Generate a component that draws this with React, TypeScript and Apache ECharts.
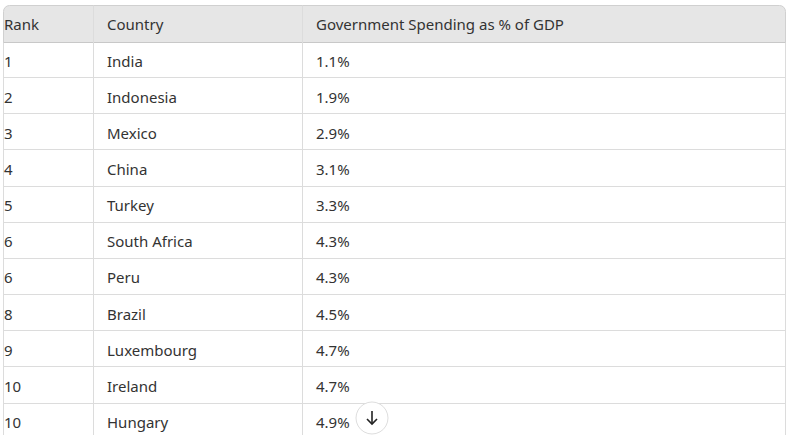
import React, { useEffect, useRef } from "react";
import * as echarts from "echarts";

const headers = ["Rank", "Country", "Government Spending as % of GDP"];
const ranks = ["1", "2", "3", "4", "5", "6", "6", "8", "9", "10", "10"];
const countries = ["India", "Indonesia", "Mexico", "China", "Turkey", "South Africa", "Peru", "Brazil", "Luxembourg", "Ireland", "Hungary"];
const spending = [1.1, 1.9, 2.9, 3.1, 3.3, 4.3, 4.3, 4.5, 4.7, 4.7, 4.9];

const FONT = "'Noto Sans', 'Open Sans', sans-serif";
const FONT_SIZE = 15;
const TEXT_COLOR = "#333333";
const LINE_COLOR = "#dcdcdc";
const COL_X = [4, 107, 316];
const COL_LINES = [93.5, 302.5];
const LEFT = 3.5;
const RIGHT = 785.5;
const TOP = 5.5;
const HEADER_BOTTOM = 42.5;
const ROW_H = 36.15;
const CHART_H = 460;

export default function App() {
  const ref = useRef<HTMLDivElement>(null);
  useEffect(() => {
    if (!ref.current) return;
    const chart = echarts.init(ref.current, null, { renderer: "svg" });
    const data = countries.map((c, i) => [0, i, ranks[i], c, spending[i]]);
    chart.setOption({
      animation: false,
      backgroundColor: "#ffffff",
      grid: { left: LEFT, right: 788 - RIGHT, top: HEADER_BOTTOM, height: ROW_H * countries.length },
      xAxis: { type: "value", min: 0, max: 1, show: false },
      yAxis: {
        type: "category",
        data: countries.map((_, i) => String(i)),
        inverse: true,
        show: false,
      },
      series: [
        {
          type: "custom",
          data,
          clip: false,
          renderItem: (params: any, api: any) => {
            const idx = api.value(1);
            const p = api.coord([0, idx]);
            const h = api.size([0, 1])[1];
            const cy = p[1];
            const bottom = Math.floor(cy + h / 2) - 0.5;
            const children: any[] = [];
            if (idx < countries.length - 1) {
              children.push({
                type: "line",
                shape: { x1: LEFT, y1: bottom, x2: RIGHT, y2: bottom },
                style: { stroke: LINE_COLOR, lineWidth: 1 },
              });
            }
            const texts = [ranks[idx], countries[idx], spending[idx].toFixed(1) + "%"];
            texts.forEach((t, j) => {
              children.push({
                type: "text",
                x: COL_X[j],
                y: cy,
                style: {
                  text: t,
                  fill: TEXT_COLOR,
                  font: `${FONT_SIZE}px ${FONT}`,
                  verticalAlign: "middle",
                  align: "left",
                },
              });
            });
            return { type: "group", children };
          },
        },
      ],
      graphic: [
        {
          type: "rect",
          shape: { x: LEFT, y: TOP, width: RIGHT - LEFT, height: HEADER_BOTTOM - TOP, r: [6, 6, 0, 0] },
          style: { fill: "#e6e6e6", stroke: "#d0d0d0", lineWidth: 1 },
          z: 0,
        },
        {
          type: "line",
          shape: { x1: LEFT, y1: HEADER_BOTTOM, x2: RIGHT, y2: HEADER_BOTTOM },
          style: { stroke: "#c8c8c8", lineWidth: 1 },
          z: 1,
        },
        {
          type: "line",
          shape: { x1: LEFT, y1: HEADER_BOTTOM, x2: LEFT, y2: CHART_H },
          style: { stroke: LINE_COLOR, lineWidth: 1 },
        },
        {
          type: "line",
          shape: { x1: RIGHT, y1: HEADER_BOTTOM, x2: RIGHT, y2: CHART_H },
          style: { stroke: LINE_COLOR, lineWidth: 1 },
        },
        ...COL_LINES.map((x) => ({
          type: "line",
          shape: { x1: x, y1: TOP, x2: x, y2: CHART_H },
          style: { stroke: LINE_COLOR, lineWidth: 1 },
          z: 1,
        })),
        ...headers.map((t, j) => ({
          type: "text",
          x: COL_X[j],
          y: (TOP + HEADER_BOTTOM) / 2 - 0.5,
          z: 2,
          style: {
            text: t,
            fill: TEXT_COLOR,
            font: `${FONT_SIZE}px ${FONT}`,
            verticalAlign: "middle",
            align: "left",
          },
        })),
        {
          type: "circle",
          shape: { cx: 372, cy: 418, r: 16 },
          style: { fill: "#ffffff", stroke: "#dedede", lineWidth: 1 },
          z: 10,
        },
        {
          type: "line",
          shape: { x1: 372, y1: 411, x2: 372, y2: 424 },
          style: { stroke: "#222222", lineWidth: 1.6 },
          z: 11,
        },
        {
          type: "polyline",
          shape: { points: [[367, 419], [372, 424], [377, 419]] },
          style: { stroke: "#222222", lineWidth: 1.6, fill: "none" },
          z: 11,
        },
      ],
    });
    return () => chart.dispose();
  }, []);
  return (
    <div style={{ width: 788, height: 435, position: "absolute", left: 0, top: 0, overflow: "hidden" }}>
      <div ref={ref} style={{ width: 788, height: CHART_H }} />
    </div>
  );
}
